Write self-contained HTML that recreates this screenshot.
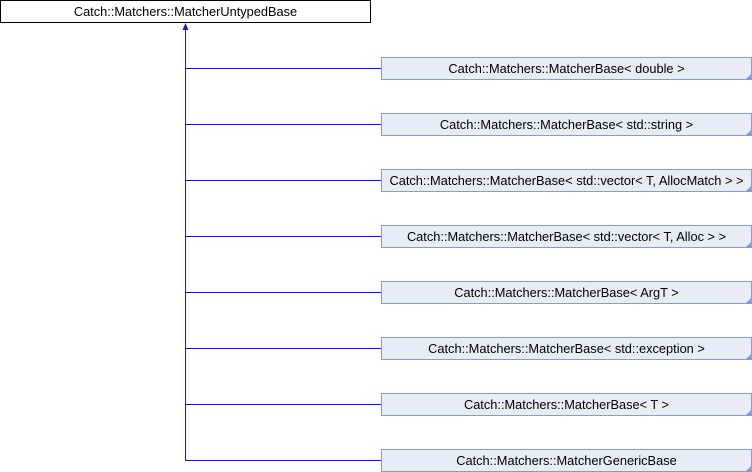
<!DOCTYPE html>
<html><head><meta charset="utf-8"><style>body{margin:0;background:#fff}svg{display:block}text{font-family:"Liberation Sans",sans-serif;font-size:12.8px;fill:#000}</style></head><body>
<svg width="752" height="472" xmlns="http://www.w3.org/2000/svg">
<rect x="0.5" y="0.5" width="370" height="22" fill="#fff" stroke="#000"/>
<text x="185.5" y="16" text-anchor="middle">Catch::Matchers::MatcherUntypedBase</text>
<line x1="185.5" y1="26" x2="185.5" y2="460.5" stroke="#1e1e9a"/>
<polygon points="185.5,23 182.5,30 188.5,30" fill="#1e1e9a"/>
<g fill="#e8ecf6" stroke="#8a9acc">
<rect x="381.5" y="57.5" width="370" height="22"/>
<rect x="381.5" y="113.5" width="370" height="22"/>
<rect x="381.5" y="169.5" width="370" height="22"/>
<rect x="381.5" y="225.5" width="370" height="22"/>
<rect x="381.5" y="281.5" width="370" height="22"/>
<rect x="381.5" y="337.5" width="370" height="22"/>
<rect x="381.5" y="393.5" width="370" height="22"/>
<rect x="381.5" y="449.5" width="370" height="22"/>
</g>
<g fill="#8a9acc">
<polygon points="751,74 751,79 746,79"/><polygon points="751,130 751,135 746,135"/><polygon points="751,186 751,191 746,191"/><polygon points="751,242 751,247 746,247"/><polygon points="751,298 751,303 746,303"/><polygon points="751,354 751,359 746,359"/><polygon points="751,410 751,415 746,415"/><polygon points="751,466 751,471 746,471"/>
</g>
<g stroke="#1e1e9a">
<line x1="185" y1="68.5" x2="381" y2="68.5"/><line x1="185" y1="124.5" x2="381" y2="124.5"/><line x1="185" y1="180.5" x2="381" y2="180.5"/><line x1="185" y1="236.5" x2="381" y2="236.5"/><line x1="185" y1="292.5" x2="381" y2="292.5"/><line x1="185" y1="348.5" x2="381" y2="348.5"/><line x1="185" y1="404.5" x2="381" y2="404.5"/><line x1="185" y1="460.5" x2="381" y2="460.5"/>
</g>
<g text-anchor="middle">
<text x="566.5" y="73">Catch::Matchers::MatcherBase&lt; double &gt;</text>
<text x="566.5" y="129">Catch::Matchers::MatcherBase&lt; std::string &gt;</text>
<text x="566.5" y="185">Catch::Matchers::MatcherBase&lt; std::vector&lt; T, AllocMatch &gt; &gt;</text>
<text x="566.5" y="241">Catch::Matchers::MatcherBase&lt; std::vector&lt; T, Alloc &gt; &gt;</text>
<text x="566.5" y="297">Catch::Matchers::MatcherBase&lt; ArgT &gt;</text>
<text x="566.5" y="353">Catch::Matchers::MatcherBase&lt; std::exception &gt;</text>
<text x="566.5" y="409">Catch::Matchers::MatcherBase&lt; T &gt;</text>
<text x="566.5" y="465">Catch::Matchers::MatcherGenericBase</text>
</g>
</svg>
</body></html>
